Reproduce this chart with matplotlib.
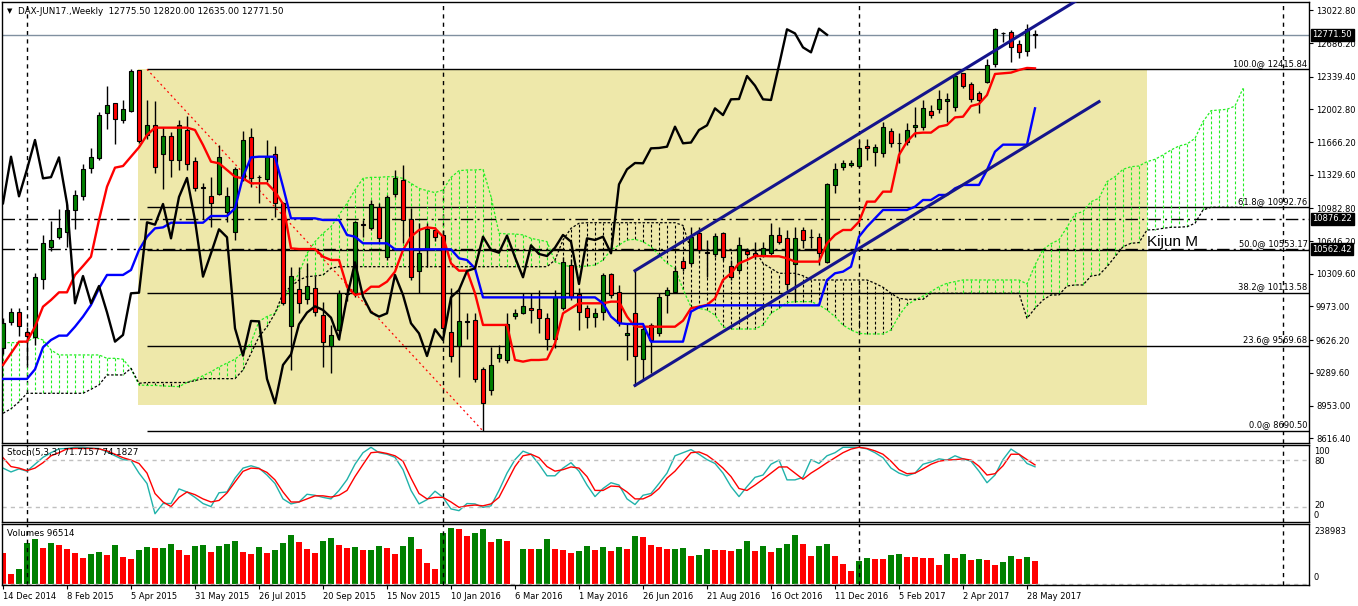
import numpy as np
import matplotlib
matplotlib.use("Agg")
import matplotlib.pyplot as plt
from matplotlib.transforms import blended_transform_factory

plt.rcParams['font.family'] = ['DejaVu Sans']

# weekly bars, bar 0 = week of 14 Dec 2014, last bar = week of 4 Jun 2017
opens = [9542, 9810, 9913, 9714, 9656, 10253, 10583, 10692, 10744, 10970,
         11115, 11396, 11506, 11962, 12065, 11894, 11990, 12409, 11736, 11839,
         11540, 11726, 11479, 11788, 11468, 11200, 11115, 11128, 10950, 10737,
         11293, 11715, 11310, 11286, 11540, 11036, 9776, 10150, 10054, 10167,
         9886, 9566, 9731, 10100, 10109, 10820, 10785, 10998, 10486, 11128,
         11273, 10871, 10342, 10568, 10761, 10710, 9707, 9566, 9815, 9831,
         9329, 9110, 9439, 9422, 9875, 9910, 9955, 9944, 9851, 9635,
         9954, 10400, 10098, 9954, 9862, 9913, 10305, 10119, 9676, 9903,
         9429, 9782, 9704, 10092, 10119, 10442, 10418, 10727, 10530, 10510,
         10734, 10394, 10349, 10548, 10520, 10493, 10527, 10710, 10682, 10408,
         10761, 10690, 10686, 10428, 11224, 11413, 11431, 11420, 11626, 11561,
         11558, 11781, 11660, 11671, 11818, 11825, 11990, 12004, 12090, 12024,
         12375, 12261, 12176, 12289, 12472, 12785, 12804, 12677, 12608, 12775.5]
highs = [9850, 9954, 9954, 9760, 10315, 10710, 10854, 10974, 11028, 11173,
         11437, 11602, 11980, 12244, 12070, 12100, 12415.84, 12410, 12100, 12093,
         11825, 11774, 11894, 11935, 11516, 11250, 11303, 11637, 11207, 11413,
         11784, 11808, 11330, 11688, 11626, 11050, 10376, 10376, 10418, 10287,
         10016, 9783, 10143, 10200, 10850, 10864, 11070, 11040, 11122, 11379,
         11427, 10984, 10830, 10830, 10790, 10760, 10160, 10160, 9905, 9903,
         9350, 9560, 9577, 9903, 9950, 10109, 10109, 10143, 9903, 10143,
         10486, 10459, 10160, 9988, 9954, 10315, 10315, 10195, 9800, 10342,
         9765, 9800, 10109, 10177, 10383, 10469, 10795, 10795, 10658, 10727,
         10744, 10452, 10692, 10580, 10640, 10640, 10830, 10795, 10760, 10795,
         10795, 10768, 10727, 11248, 11448, 11482, 11482, 11688, 11695, 11647,
         11877, 11808, 11757, 11860, 12031, 12100, 12048, 12203, 12169, 12357,
         12382, 12289, 12196, 12519, 12838, 12804, 12821, 12718, 12883, 12820]
lows = [9480, 9782, 9669, 9371, 9576, 10150, 10548, 10672, 10589, 10768,
        11070, 11345, 11482, 11801, 11647, 11860, 11980, 11654, 11700, 11351,
        11180, 11303, 11379, 11379, 11166, 10870, 10795, 11121, 10847, 10658,
        11270, 11200, 11036, 11260, 10898, 9985, 9319, 9903, 10000, 9880,
        9353, 9292, 9628, 10030, 10074, 10690, 10760, 10640, 10450, 11100,
        10624, 10250, 10109, 10383, 10650, 9700, 9405, 9250, 9640, 9200,
        8690.5, 9060, 9400, 9390, 9840, 9900, 9800, 9697, 9525, 9542,
        9937, 10040, 9731, 9748, 9765, 9834, 10060, 9770, 9422, 9155,
        9216, 9285, 9669, 9903, 10109, 10340, 10400, 10520, 10280, 10480,
        10450, 10250, 10330, 10490, 10460, 10480, 10500, 10620, 10143, 10023,
        10572, 10572, 10401, 10418, 11139, 11380, 11410, 11400, 11482, 11424,
        11510, 11620, 11448, 11640, 11722, 11790, 11910, 11963, 11877, 11990,
        12220, 12080, 11963, 12270, 12443, 12700, 12495, 12529, 12553, 12635]
closes = [9807, 9913, 9772, 9673, 10274, 10627, 10655, 10778, 10971, 11118,
          11389, 11516, 11946, 12045, 11901, 12004, 12400, 11678, 11839, 11406,
          11726, 11479, 11839, 11437, 11190, 11196, 11036, 11516, 11108, 11386,
          11688, 11293, 11305, 11509, 11036, 10006, 10287, 10006, 10184, 9913,
          9611, 9680, 10109, 10115, 10840, 10816, 11029, 10675, 11101, 11297,
          10861, 10281, 10521, 10768, 10686, 9748, 9467, 9824, 9820, 9227,
          8976, 9371, 9480, 9790, 9910, 9975, 9937, 9858, 9635, 10068,
          10428, 10074, 9913, 9869, 9903, 10298, 10092, 9800, 9696, 9463,
          9738, 9628, 10068, 10143, 10339, 10366, 10692, 10555, 10527, 10703,
          10480, 10274, 10603, 10514, 10493, 10579, 10710, 10641, 10205, 10675,
          10658, 10692, 10521, 11231, 11386, 11451, 11448, 11602, 11606, 11619,
          11825, 11654, 11662, 11791, 11839, 12014, 11945, 12107, 12110, 12347,
          12248, 12107, 12100, 12457, 12828, 12786, 12642, 12591, 12835, 12771.5]
volumes = [133715, 42675, 65435, 173545, 192038, 155053, 174968, 166433, 149363, 132293,
           110955, 128025, 136560, 123758, 166433, 115223, 108110, 145095, 157898, 152208,
           153630, 170700, 145095, 123758, 162165, 166433, 136560, 162165, 170700, 183503,
           136560, 128025, 157898, 132293, 145095, 174968, 209108, 179235, 149363, 132293,
           183503, 196305, 166433, 153630, 157898, 145095, 146518, 162165, 153630, 128025,
           162165, 200573, 149363, 89618, 64013, 217643, 238983, 234713, 204840, 217643,
           234713, 179235, 192038, 183503, 1500, 149363, 148000, 149363, 192038, 149363,
           147000, 132293, 140828, 162165, 145095, 157898, 140828, 157898, 149363, 204840,
           200573, 166433, 157898, 149363, 150500, 153630, 119490, 123758, 149363, 145095,
           144000, 140828, 149363, 183503, 140828, 162165, 136560, 153630, 170700, 209108,
           170700, 119490, 162165, 170700, 119490, 85350, 55478, 98153, 110955, 106688,
           106000, 123758, 128025, 115223, 114500, 110955, 110000, 81083, 128025, 110955,
           128025, 102420, 106688, 102420, 81083, 93885, 119490, 106688, 115223, 96514]

# Ichimoku lines
tenkan = [9371, 9491, 9611, 9611, 9765, 9971, 10040, 10119, 10119, 10298,
          10390, 10486, 10864, 11207, 11403, 11420, 11516, 11613, 11740, 11815,
          11815, 11815, 11815, 11815, 11791, 11637, 11465, 11448, 11379, 11310,
          11293, 11242, 11242, 11242, 11156, 11029, 10572, 10565, 10565, 10565,
          10486, 10452, 10452, 10177, 10092, 10109, 10177, 10177, 10229, 10332,
          10555, 10692, 10761, 10788, 10778, 10692, 10418, 10342, 10342, 10109,
          9783, 9783, 9783, 9783, 9422, 9405, 9422, 9422, 9429, 9594,
          9903, 9955, 10006, 10006, 10006, 10006, 10023, 10023, 9869, 9765,
          9765, 9765, 9765, 9765, 9765, 9827, 9955, 9972, 9989, 10057,
          10246, 10315, 10418, 10452, 10493, 10493, 10490, 10490, 10470, 10435,
          10435, 10435, 10435, 10624, 10710, 10761, 10761, 10847, 11053, 11053,
          11156, 11156, 11534, 11671, 11757, 11764, 11764, 11825, 11843, 11921,
          11928, 12038, 12059, 12151, 12368, 12375, 12382, 12409, 12430, 12426]
kijun = [9227, 9227, 9227, 9227, 9326, 9553, 9628, 9673, 9673, 9765,
         9869, 9989, 10160, 10298, 10298, 10298, 10349, 10555, 10692, 10778,
         10788, 10836, 10836, 10836, 10836, 10836, 10905, 10905, 10905, 10984,
         11310, 11509, 11516, 11516, 11516, 11207, 10881, 10881, 10881, 10881,
         10864, 10864, 10864, 10710, 10692, 10624, 10624, 10624, 10624, 10562,
         10562, 10562, 10562, 10562, 10562, 10562, 10562, 10469, 10452, 10366,
         10067, 10067, 10067, 10067, 10067, 10067, 10067, 10067, 10067, 10067,
         10067, 10067, 10067, 10067, 10067, 10006, 9869, 9800, 9793, 9793,
         9793, 9611, 9611, 9611, 9611, 9611, 9920, 9965, 9985, 9985,
         9985, 9985, 9985, 9985, 9985, 9985, 9985, 9985, 9985, 9985,
         9985, 9985, 9985, 10246, 10315, 10332, 10383, 10692, 10795, 10881,
         10967, 10967, 10967, 10967, 11001, 11070, 11070, 11122, 11122, 11190,
         11225, 11225, 11225, 11379, 11568, 11640, 11640, 11640, 11640, 12014]
span_a = [9601, 9601, 9601, 9611, 9656, 9628, 9525, 9474, 9474, 9474,
          9474, 9474, 9474, 9439, 9439, 9430, 9330, 9165, 9160, 9160,
          9155, 9150, 9148, 9190, 9223, 9260, 9300, 9350, 9390, 9430,
          9500, 9600, 9820, 9870, 9903, 10040, 10177, 10315, 10520, 10641,
          10727, 10795, 10916, 11036, 11173, 11293, 11303, 11303, 11310, 11310,
          11293, 11242, 11190, 11166, 11146, 11173, 11303, 11372, 11379, 11379,
          11386, 11104, 10727, 10720, 10720, 10710, 10675, 10658, 10641, 10435,
          10400, 10383, 10383, 10390, 10400, 10452, 10555, 10607, 10658, 10665,
          10641, 10589, 10503, 10418, 10366, 10150, 9970, 9954, 9937, 9885,
          9765, 9741, 9741, 9741, 9741, 9782, 9903, 9954, 10013, 10023,
          10023, 10023, 9989, 9937, 9869, 9782, 9731, 9697, 9690, 9690,
          9690, 9731, 9880, 9990, 10040, 10080, 10126, 10177, 10212, 10229,
          10246, 10246, 10246, 10246, 10246, 10246, 10246, 10246, 10205, 10400,
          10560, 10620, 10660, 10790, 10926, 10950, 11053, 11087, 11259, 11310,
          11386, 11413, 11420, 11465, 11489, 11534, 11585, 11626, 11647, 11705,
          11877, 11990, 11997, 12004, 12038, 12220]
span_b = [8873, 8920, 8990, 9079, 9079, 9079, 9079, 9079, 9079, 9079,
          9079, 9120, 9165, 9268, 9268, 9268, 9336, 9182, 9190, 9190,
          9190, 9190, 9190, 9190, 9210, 9230, 9230, 9230, 9230, 9230,
          9319, 9491, 9662, 9765, 9903, 10109, 10177, 10246, 10280, 10287,
          10298, 10366, 10383, 10383, 10383, 10383, 10383, 10383, 10383, 10383,
          10383, 10383, 10383, 10383, 10383, 10383, 10383, 10383, 10383, 10383,
          10383, 10383, 10383, 10383, 10383, 10383, 10383, 10383, 10383, 10452,
          10658, 10778, 10830, 10836, 10836, 10836, 10836, 10836, 10836, 10836,
          10836, 10836, 10836, 10836, 10836, 10808, 10553, 10553, 10553, 10553,
          10553, 10553, 10553, 10553, 10553, 10418, 10366, 10315, 10315, 10315,
          10290, 10246, 10246, 10246, 10246, 10246, 10246, 10246, 10246, 10212,
          10171, 10109, 10057, 10047, 10047, 10047, 10109, 10109, 10109, 10109,
          10109, 10109, 10109, 10109, 10109, 10109, 10109, 10109, 9851, 9954,
          10040, 10092, 10092, 10184, 10195, 10195, 10287, 10298, 10383, 10486,
          10589, 10624, 10631, 10761, 10765, 10778, 10789, 10790, 10795, 10830,
          10967, 10995, 10995, 10995, 10995, 10995]

stoch_k = [70, 65, 69, 66, 75, 84, 90, 95, 95.5, 97,
           97, 96, 95.5, 91, 86, 81, 80, 63.5, 50, 10.7,
           24, 24, 43, 39, 32, 24, 20, 38, 39, 57,
           70, 73, 70, 61, 50, 30, 23.5, 26, 36, 34.7,
           32, 30, 41, 55, 75, 90, 97, 90, 88, 84,
           68, 41, 23.5, 29, 40, 32, 17, 14.7, 24, 23.5,
           19, 21, 41, 63.5, 81, 92, 88, 75, 60, 60,
           70, 77, 66, 48, 33, 43.5, 51, 48, 30, 22.7,
           34.7, 37, 50, 63.5, 86, 90, 94, 88, 81, 76,
           63.5, 46, 33, 46, 58, 61, 75, 80.4, 54.7, 54.7,
           58, 81, 76, 86, 90, 97, 97, 97, 95, 90,
           83.5, 70, 63.5, 60, 63.5, 75, 78, 82, 80.4, 86,
           82, 79, 66, 51, 61, 81, 94.7, 88, 76, 71.7157]
stoch_d = [83.5, 72, 70, 66.7, 70, 77, 86, 90, 95, 95.5,
           95.5, 95.5, 95, 92.4, 88, 83.5, 80.4, 76, 63.5, 37,
           26, 20, 32, 39, 35.5, 30, 26, 28, 37.8, 52,
           65.8, 70, 69.3, 64.4, 54.7, 39, 26, 26, 30, 34,
           34, 32.4, 34.7, 41, 59, 74.7, 90, 91, 89, 86,
           79, 57, 37, 30, 32, 32, 26, 19, 21, 22,
           21, 23.5, 32, 52, 72, 86, 88, 83.5, 72, 66,
           68, 71.5, 70, 59, 41, 41, 46.7, 46, 39, 30,
           30, 34.7, 43.5, 57, 66, 78, 90, 91, 86.7, 79,
           70, 59, 43.5, 41, 48, 55.5, 63.5, 71.5, 71.5, 63.5,
           55.5, 63.5, 70, 77, 83.5, 90, 94.7, 97, 95.5, 92.4,
           88, 79, 68, 62.7, 63.5, 69, 75, 79, 80.4, 81,
           82, 80.4, 72.4, 61, 62.7, 73, 88, 88, 81, 74.1827]

date_labels = ['14 Dec 2014', '8 Feb 2015', '5 Apr 2015', '31 May 2015', '26 Jul 2015',
               '20 Sep 2015', '15 Nov 2015', '10 Jan 2016', '6 Mar 2016', '1 May 2016',
               '26 Jun 2016', '21 Aug 2016', '16 Oct 2016', '11 Dec 2016', '5 Feb 2017',
               '2 Apr 2017', '28 May 2017']
price_ticks = [13022.80, 12686.20, 12339.40, 12002.80, 11666.20, 11329.60, 10982.80,
               10646.20, 10309.60, 9973.00, 9626.20, 9289.60, 8953.00, 8616.40]
year_starts = [3, 55, 107, 160]

fib_levels = ['0.0', '23.6', '38.2', '50.0', '61.8', '100.0']
fib_prices = [8690.50, 9569.68, 10113.58, 10553.17, 10992.76, 12415.84]
fib_from, fib_to = 18, 60
box_bars = [16.9, 143]
box_prices = [8960, 12415.84]
channel_upper = [(79, 10342), (134, 13114)]
channel_lower = [(79, 9160), (137, 12083)]
h_levels = [10876.22, 10562.42]
last_price = 12771.50

n = len(closes)
bars = np.arange(n)
cloud_bars = np.arange(len(span_a))

W, H = 1358, 606


def box(x0, y0, x1, y1):
    return [x0 / W, 1 - y1 / H, (x1 - x0) / W, (y1 - y0) / H]


def px(x, y):
    return x / W, 1 - y / H


fig = plt.figure(figsize=(W / 100, H / 100), dpi=100)
ax = fig.add_axes(box(2, 2, 1309, 443))
ax_st = fig.add_axes(box(2, 445, 1309, 522), sharex=ax)
ax_v = fig.add_axes(box(2, 524, 1309, 585), sharex=ax)

GREEN = '#008000'
RED = '#ff0000'
LIME = '#22ee22'

# ---- main panel ----
ax.fill_between(box_bars, box_prices[0], box_prices[1], color='#eee8aa', lw=0, zorder=0)
ax.hlines(fib_prices, fib_from, 200, color='black', lw=1, zorder=1)
ax.plot([fib_from, fib_to], [fib_prices[-1], fib_prices[0]], color='red', lw=0.9,
        ls=(0, (1.5, 2.5)), zorder=1)
tr = blended_transform_factory(ax.transAxes, ax.transData)
for lev, p in zip(fib_levels, fib_prices):
    ax.annotate(f'{lev}@ {p:.2f}', xy=(1, p), xycoords=tr, xytext=(-1, 1.2),
                textcoords='offset points', ha='right', va='bottom', fontsize=6, zorder=6)

# cloud
sa = np.array(span_a, float)
sb = np.array(span_b, float)
hatch_cols = [LIME if a >= b else 'black' for a, b in zip(sa, sb)]
ax.vlines(cloud_bars, sa, sb, colors=hatch_cols, lw=0.8, ls=(0, (2.5, 2)), zorder=2)
ax.plot(cloud_bars, sa, color=LIME, lw=0.9, ls=(0, (2, 1.5)), zorder=2)
ax.plot(cloud_bars, sb, color='black', lw=0.9, ls=(0, (2, 1.5)), zorder=2)

for lv in h_levels:
    ax.axhline(lv, color='black', lw=1, ls=(0, (9, 3, 1.5, 3)), zorder=2)
ax.axhline(last_price, color='#8090a0', lw=1, zorder=2)

# candles
o = np.array(opens, float)
c = np.array(closes, float)
up = c >= o
ax.vlines(bars, lows, highs, color='black', lw=1, zorder=3)
ax.bar(bars, np.abs(c - o), bottom=np.minimum(o, c), width=0.6,
       color=[GREEN if u else RED for u in up], edgecolor='black', lw=0.8, zorder=3)

# indicator lines
ax.plot(bars, tenkan, color='red', lw=1.7, zorder=4)
ax.plot(bars, kijun, color='blue', lw=1.7, zorder=4)
ax.plot(bars[:n - 26], closes[26:], color='black', lw=1.7, zorder=4)

for (b0, p0), (b1, p1) in (channel_upper, channel_lower):
    ax.plot([b0, b1], [p0, p1], color='#14148c', lw=2.2, zorder=5)

ax.text(143, 10596, 'Kijun M', family='Liberation Sans', fontsize=11, ha='left',
        va='baseline', zorder=6)

ax.set_ylim(8567, 13109.4)
ax.yaxis.tick_right()
ax.set_yticks(price_ticks)
ax.set_yticklabels([f'{p:.2f}' for p in price_ticks])
ax.tick_params(axis='y', labelsize=6, length=3, width=0.8, pad=2, direction='out')
ax.tick_params(axis='x', bottom=False, labelbottom=False)

for p in (last_price, h_levels[0], h_levels[1]):
    ax.text(1.0025, p, f'{p:.2f}', transform=tr, ha='left', va='center', fontsize=6,
            color='white', zorder=7, clip_on=False,
            bbox=dict(boxstyle='square,pad=0.2', fc='black', ec='black'))

# ---- stochastic ----
ax_st.plot(bars, stoch_k, color='#20b2aa', lw=1)
ax_st.plot(bars, stoch_d, color='red', lw=1)
for lv in (80, 20):
    ax_st.axhline(lv, color='#c0c0c0', lw=1, ls=(0, (3, 3)))
ax_st.set_ylim(0, 100)
ax_st.set_yticks([])
ax_st.tick_params(axis='x', bottom=False, labelbottom=False)

# ---- volumes ----
vols = np.array(volumes, float)
vcols = [RED] + [GREEN if vols[i] > vols[i - 1] else RED for i in range(1, n)]
ax_v.bar(bars, vols, width=0.72, color=vcols, lw=0)
ax_v.axhline(0, color='#c0c0c0', lw=1, ls=(0, (3, 3)))
ax_v.set_ylim(-4300, 256000)
ax_v.set_yticks([])
ax_v.set_xticks(bars[::8])
ax_v.set_xticklabels(date_labels)
for lab in ax_v.get_xticklabels():
    lab.set_horizontalalignment('left')
ax_v.tick_params(axis='x', labelsize=6, length=3, width=0.8, pad=2)

ax.set_xlim(-0.125, 163.25)

for a in (ax, ax_st, ax_v):
    for ys in year_starts:
        a.axvline(ys, color='black', lw=1, ls=(0, (3, 3)), zorder=1.5)
    for s in a.spines.values():
        s.set_color('black')
        s.set_linewidth(1)

# ---- texts ----
fig.text(*px(7, 11), '\u25bc', fontsize=5, va='center', ha='left')
fig.text(*px(18, 11), 'DAX-JUN17.,Weekly  12775.50 12820.00 12635.00 12771.50',
         fontsize=6.3, va='center', ha='left')
fig.text(*px(7, 453), 'Stoch(5,3,3) 71.7157 74.1827', fontsize=6.3, va='center', ha='left')
fig.text(*px(7, 533), 'Volumes 96514', fontsize=6.3, va='center', ha='left')
for lab, y in (('100', 451), ('80', 462), ('20', 506), ('0', 515)):
    fig.text(*px(1314, y), lab, fontsize=6, va='center', ha='left')
for lab, y in (('238983', 531), ('0', 578)):
    fig.text(*px(1314, y), lab, fontsize=6, va='center', ha='left')

fig.savefig('out.png', dpi=100)
